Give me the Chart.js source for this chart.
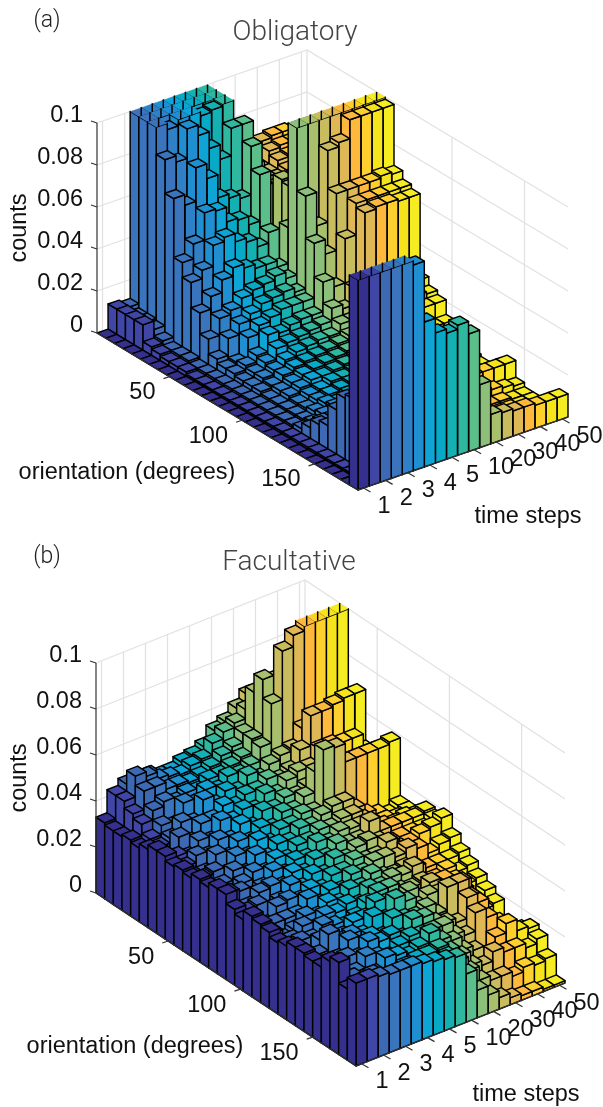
<!DOCTYPE html>
<html>
<head>
<meta charset="utf-8">
<title>Obligatory / Facultative</title>
<script src="https://cdn.jsdelivr.net/npm/chart.js@4"></script>
<style>
    html, body { margin: 0; padding: 0; background: #fff; }
    #wrap { position: relative; width: 603px; height: 1107px; overflow: hidden; }
    canvas { position: absolute; left: 0; }
</style>
</head>
<body>
<div id="wrap">
    <canvas id="panelA" width="603" height="540" style="top:0"></canvas>
    <canvas id="panelB" width="603" height="567" style="top:540px"></canvas>
</div>
<script>
// Tick labels
const timeLabels = ['1', '2', '3', '4', '5', '10', '20', '30', '40', '50'];
const orientationTicks = [50, 100, 150];
const countTicks = [0, 0.02, 0.04, 0.06, 0.08, 0.1];
const binDegrees = 6;

// Counts x 1000, one list per time step bin, one entry per orientation bin (0-180 degrees)
// Anything at 100 is cut off by the top of the axes
const obligatoryCounts = [
    [0,0,0,0,0,0,0,0,0,0,0,0,0,0,0,0,0,0,0,0,0,0,0,0,0,0,0,0,0,100],
    [12,12,12,12,4,3,2,2,2,1,1,1,1,1,1,1,1,1,1,1,1,1,1,1,1,1,1,1,2,100],
    [11,9,9,8,5,3,3,3,2,2,2,2,2,2,2,2,2,2,2,2,3,6,10,12,22,30,32,32,30,100],
    [100,100,100,87,71,43,36,24,14,7,5,5,4,4,4,3,3,3,3,3,4,7,8,9,10,18,22,25,28,100],
    [100,100,97,84,66,50,40,30,22,15,6,7,6,6,5,5,5,4,4,5,6,7,8,7,9,12,15,18,22,100],
    [100,100,100,98,82,63,50,36,24,20,16,10,9,8,8,7,7,6,6,7,8,9,8,10,12,11,14,16,20,98],
    [100,100,100,93,75,62,52,40,28,23,20,18,14,11,10,9,9,7,7,6,8,10,12,10,9,12,13,12,14,69],
    [100,100,98,85,64,55,48,38,30,26,22,17,15,13,11,10,9,9,8,8,7,9,8,8,10,11,9,10,12,62],
    [100,100,99,78,62,54,46,36,31,27,24,19,16,14,12,11,10,9,9,8,8,7,8,9,8,7,8,9,10,60],
    [100,100,100,91,60,50,42,36,33,28,24,20,17,15,13,12,11,10,9,9,8,8,8,7,7,7,7,8,9,62],
    [60,70,85,91,83,72,47,33,30,26,24,20,18,15,14,13,12,11,10,9,9,8,8,7,7,7,8,8,9,56],
    [50,55,60,70,62,41,36,50,100,70,50,34,24,19,16,14,13,12,11,10,9,9,8,8,8,8,7,7,8,30],
    [55,55,58,62,60,66,65,75,100,54,43,30,22,19,17,15,13,12,11,10,10,9,9,8,8,8,7,6,6,14],
    [60,60,60,60,60,62,65,80,100,88,70,51,30,22,18,16,14,13,12,12,11,10,10,9,9,8,6,5,5,13],
    [68,66,64,62,62,62,66,80,100,90,70,66,64,34,24,20,12,9,8,7,6,6,6,12,8,3,2,2,2,12],
    [69,67,65,63,62,62,66,82,100,99,70,66,65,36,26,21,13,9,8,7,6,6,6,12,7,3,2,2,2,12],
    [69,67,65,63,62,62,66,82,100,99,70,66,65,34,25,21,14,9,8,7,6,5,5,12,6,3,2,2,2,11],
    [68,66,64,62,62,62,66,82,100,99,71,66,64,30,24,21,14,10,8,6,5,5,5,12,5,2,2,2,2,11],
    [68,66,64,62,62,62,66,82,100,99,70,66,64,27,23,21,14,9,7,5,4,4,4,12,4,2,2,2,2,11]
];

const facultativeCounts = [
    [33,32,32,33,32,34,36,36,34,35,34,36,35,37,37,33,31,35,34,33,31,32,34,34,33,33,38,40,31,36],
    [43,43,40,38,34,33,30,34,32,30,32,28,30,33,27,30,26,24,28,25,22,24,27,24,22,26,24,28,22,36],
    [46,52,48,42,38,35,38,32,35,30,33,30,27,32,28,31,25,28,24,26,28,24,27,25,28,23,27,25,28,35],
    [46,50,48,44,36,40,34,37,33,36,30,34,31,28,32,27,31,28,26,30,27,29,34,26,29,25,23,29,26,34],
    [46,47,45,42,44,38,40,35,38,33,36,31,34,30,33,29,32,28,30,27,31,26,29,32,27,30,25,22,28,34],
    [44,46,45,44,42,46,40,42,36,38,34,37,32,35,31,34,30,33,28,31,29,27,30,26,32,28,30,26,27,34],
    [44,45,44,43,46,42,44,40,41,36,39,34,36,32,35,31,33,29,32,30,27,31,28,30,30,26,29,27,27,33],
    [46,47,45,46,44,46,42,43,38,40,36,38,34,36,33,35,31,33,30,32,29,31,34,28,31,29,27,28,26,32],
    [47,48,47,46,48,44,45,41,43,38,40,37,38,35,37,33,35,31,34,30,33,36,31,34,28,31,29,28,26,31],
    [49,53,50,48,47,49,45,46,42,43,40,41,38,40,36,38,35,36,33,35,36,34,38,32,34,30,33,29,28,30],
    [54,56,52,50,49,46,48,44,45,42,43,40,41,38,40,36,38,35,37,34,36,33,35,31,33,30,28,26,24,21],
    [56,58,56,56,55,50,46,48,44,46,42,43,40,41,38,39,36,38,34,36,33,35,31,33,29,30,26,22,18,12],
    [60,62,72,80,72,52,48,50,46,55,67,45,42,40,38,40,36,38,33,35,32,30,34,28,27,24,20,16,12,8],
    [64,67,72,78,93,53,55,50,48,50,66,45,42,40,44,38,40,36,34,37,33,35,33,38,25,22,18,14,10,5],
    [60,65,70,75,98,60,68,56,52,50,58,40,38,36,38,35,34,38,32,26,30,28,26,38,34,30,14,18,10,3],
    [55,60,65,70,100,60,68,56,52,50,58,36,34,36,38,36,36,36,30,28,30,28,34,30,30,26,20,16,8,2],
    [50,55,60,65,100,60,69,55,50,48,58,34,34,35,38,36,38,32,30,30,28,26,22,18,20,22,24,16,10,2],
    [50,55,60,65,100,60,70,55,50,48,58,32,33,36,38,36,39,34,30,27,24,20,18,10,12,14,19,14,9,1],
    [50,50,60,70,100,60,70,48,50,52,59,34,34,35,39,38,41,35,31,28,25,22,19,8,13,15,18,16,10,1]
];

// One colour per time step bin, same for both panels
const timeColors = [
    '#35308e', '#3f46a5', '#3d69b4', '#3a74bc', '#2f80c6', '#1f8fd2', '#0ea4d6', '#08a9c6',
    '#14b0b2', '#30b7a0', '#5abf8b', '#8cc07a', '#a8bf6c', '#c8bc5e', '#dfb855', '#feb93c',
    '#fdd02e', '#f5e31c', '#f5ec22'
];

// Corners of each box on screen, in canvas pixels
const geometryA = {
    front: { x: 358, y: 490 }, left: { x: 97, y: 333 }, right: { x: 568, y: 417 }, height: 210,
    title: 'Obligatory', titleX: 295, titleY: 33, tag: '(a)', tagY: 21,
    countsY: 228, orientationX: 127, orientationY: 473, stepsX: 528, stepsY: 517
};
const geometryB = {
    front: { x: 356, y: 526 }, left: { x: 96, y: 353 }, right: { x: 565, y: 443 }, height: 230,
    title: 'Facultative', titleX: 289, titleY: 23, tag: '(b)', tagY: 17,
    countsY: 238, orientationX: 135, orientationY: 507, stepsX: 526, stepsY: 555
};

// Build one dataset per time step, x is the orientation bin, y the count
function buildDatasets(counts) {
    return counts.map((column, timeIndex) => ({
        label: `time bin ${timeIndex + 1}`,
        xAxisID: 'o',
        yAxisID: 'z',
        pointRadius: 0,
        showLine: false,
        data: column.map((value, bin) => ({ x: bin * binDegrees, y: value / 1000 }))
    }));
}

// Position along a scale, 0 to 1
function fraction(scale, value) {
    const start = scale.getPixelForValue(scale.min);
    const end = scale.getPixelForValue(scale.max);
    return (scale.getPixelForValue(value) - start) / (end - start);
}

// Turn (time, orientation, count) into canvas pixels
function makeProjector(chart, geo) {
    const s = chart.scales;
    return (t, o, z) => {
        const ft = fraction(s.t, t);
        const fo = 1 - fraction(s.o, o);
        const fz = fraction(s.z, z);
        return {
            x: geo.front.x + ft * (geo.right.x - geo.front.x) + fo * (geo.left.x - geo.front.x),
            y: geo.front.y + ft * (geo.right.y - geo.front.y) + fo * (geo.left.y - geo.front.y) - fz * geo.height
        };
    };
}

function tracePath(ctx, points) {
    ctx.beginPath();
    points.forEach((p, i) => (i === 0 ? ctx.moveTo(p.x, p.y) : ctx.lineTo(p.x, p.y)));
}

function drawSegment(ctx, a, b) {
    ctx.beginPath();
    ctx.moveTo(a.x, a.y);
    ctx.lineTo(b.x, b.y);
    ctx.stroke();
}

function drawWalls(ctx, chart, project) {
    const timeMax = chart.scales.t.max;
    const oMax = chart.scales.o.max;
    const top = chart.scales.z.max;
    ctx.strokeStyle = '#e2e2e2';
    ctx.lineWidth = 1.3;
    countTicks.forEach(z => {
        tracePath(ctx, [project(0, 0, z), project(timeMax, 0, z), project(timeMax, oMax, z)]);
        ctx.stroke();
    });
    drawSegment(ctx, project(timeMax, 0, 0), project(timeMax, 0, top));
    timeLabels.forEach((_, i) => {
        const t = i * 2 + 0.5;
        drawSegment(ctx, project(t, 0, 0), project(t, 0, top));
    });
    orientationTicks.forEach(o => {
        drawSegment(ctx, project(timeMax, o, 0), project(timeMax, o, top));
    });
}

// Back to front so that nearer bars cover the ones behind
function drawBars(ctx, chart, project) {
    const zMax = chart.scales.z.max;
    const datasets = chart.data.datasets;
    ctx.strokeStyle = '#000';
    ctx.lineWidth = 1.45;
    ctx.lineJoin = 'round';
    const rows = datasets[0].data.length;
    for (let row = 0; row < rows; row++) {
        for (let t = datasets.length - 1; t >= 0; t--) {
            const point = datasets[t].data[row];
            const cut = point.y >= zMax;
            const h = Math.min(point.y, zMax);
            const o0 = point.x;
            const o1 = point.x + binDegrees;
            ctx.fillStyle = timeColors[t];
            if (h > 0) {
                const faces = [
                    [project(t, o1, 0), project(t + 1, o1, 0), project(t + 1, o1, h), project(t, o1, h)],
                    [project(t, o0, 0), project(t, o1, 0), project(t, o1, h), project(t, o0, h)]
                ];
                faces.forEach(face => {
                    tracePath(ctx, face);
                    ctx.closePath();
                    ctx.fill();
                    ctx.stroke();
                });
            }
            const top = [project(t, o0, h), project(t + 1, o0, h), project(t + 1, o1, h), project(t, o1, h)];
            tracePath(ctx, top);
            ctx.closePath();
            ctx.fill();
            if (cut) {
                // open top: only the stub of the rear edge shows
                const corner = top[1];
                drawSegment(ctx, corner, { x: corner.x, y: corner.y + 9 });
            } else {
                ctx.stroke();
            }
        }
    }
}

function drawAxes(ctx, chart, project, geo) {
    const tMax = chart.scales.t.max;
    const oMax = chart.scales.o.max;
    const top = chart.scales.z.max;
    const textFont = '23.5px "Liberation Sans", Arial, sans-serif';

    ctx.strokeStyle = '#333';
    ctx.lineWidth = 1.2;
    drawSegment(ctx, project(0, 0, 0), project(0, 0, top));
    drawSegment(ctx, project(0, 0, 0), project(0, oMax, 0));
    drawSegment(ctx, project(0, oMax, 0), project(tMax, oMax, 0));

    ctx.fillStyle = '#111';
    ctx.font = textFont;
    ctx.textBaseline = 'middle';

    // counts axis
    ctx.textAlign = 'right';
    countTicks.forEach(z => {
        const p = project(0, 0, z);
        drawSegment(ctx, p, { x: p.x - 6, y: p.y - 2 });
        ctx.fillText(String(z), p.x - 14, p.y - 7);
    });

    // orientation axis
    orientationTicks.forEach(o => {
        const p = project(0, o, 0);
        drawSegment(ctx, p, { x: p.x - 6, y: p.y + 2 });
        ctx.fillText(String(o), p.x - 14, p.y + 16);
    });

    // time axis
    ctx.textAlign = 'left';
    timeLabels.forEach((label, i) => {
        const p = project(i * 2 + 0.5, oMax, 0);
        drawSegment(ctx, p, { x: p.x + 7, y: p.y + 4 });
        ctx.fillText(label, p.x + 14, p.y + 18);
    });

    // axis names
    ctx.textAlign = 'center';
    ctx.fillText('orientation (degrees)', geo.orientationX, geo.orientationY);
    ctx.fillText('time steps', geo.stepsX, geo.stepsY);
    ctx.save();
    ctx.translate(20, geo.countsY);
    ctx.rotate(-Math.PI / 2);
    ctx.fillText('counts', 0, 0);
    ctx.restore();

    // title and panel tag
    ctx.fillStyle = '#444';
    ctx.font = '300 28px Roboto, "Liberation Sans", sans-serif';
    ctx.fillText(geo.title, geo.titleX, geo.titleY);
    ctx.font = '300 23px Roboto, "Liberation Sans", sans-serif';
    ctx.fillStyle = '#222';
    ctx.fillText(geo.tag, 47, geo.tagY);
}

const bars3dPlugin = {
    id: 'bars3d',
    afterDatasetsDraw(chart, args, options) {
        const ctx = chart.ctx;
        const project = makeProjector(chart, options.geometry);
        ctx.save();
        drawWalls(ctx, chart, project);
        drawBars(ctx, chart, project);
        drawAxes(ctx, chart, project, options.geometry);
        ctx.restore();
    }
};

function createPanel(canvasId, counts, geometry) {
    return new Chart(document.getElementById(canvasId), {
        type: 'scatter',
        data: { datasets: buildDatasets(counts) },
        plugins: [bars3dPlugin],
        options: {
            responsive: false,
            animation: false,
            layout: { padding: 0 },
            plugins: {
                legend: { display: false },
                title: { display: false },
                tooltip: { enabled: false },
                bars3d: { geometry: geometry }
            },
            scales: {
                o: { type: 'linear', axis: 'x', position: 'bottom', display: false, min: 0, max: 180 },
                t: { type: 'linear', axis: 'x', position: 'bottom', display: false, min: 0, max: counts.length },
                z: { type: 'linear', axis: 'y', position: 'left', display: false, min: 0, max: 0.1 }
            }
        }
    });
}

createPanel('panelA', obligatoryCounts, geometryA);
createPanel('panelB', facultativeCounts, geometryB);
</script>
</body>
</html>
